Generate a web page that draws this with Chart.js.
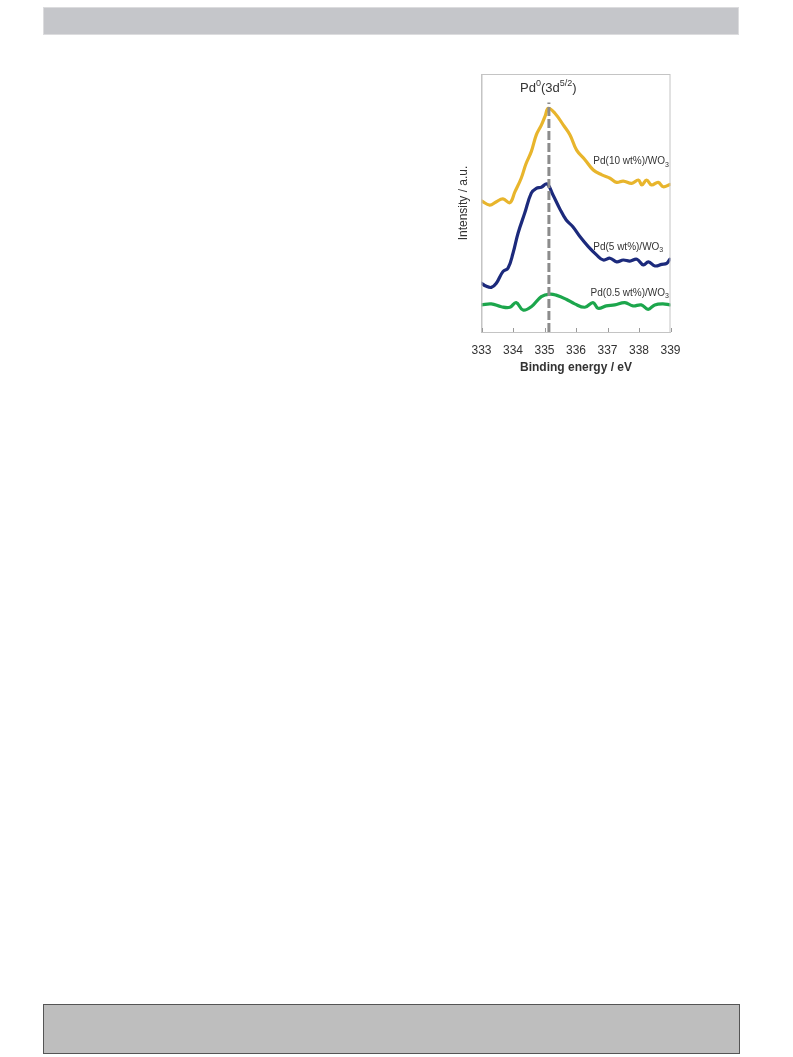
<!DOCTYPE html>
<html>
<head>
<meta charset="utf-8">
<script src="https://cdn.jsdelivr.net/npm/chart.js@4.4.6/dist/chart.umd.min.js"></script>
<style>
  html, body { margin: 0; padding: 0; background: #fff; }
  body { width: 793px; height: 1057px; position: relative; overflow: hidden; }
  .top-bar { position: absolute; left: 43px; top: 7px; width: 694px; height: 26px; background: #c5c6ca; border: 1px solid #dcdcde; }
  .bottom-box { position: absolute; left: 43px; top: 1004px; width: 695px; height: 48px; background: #bebebe; border: 1px solid #555; }
  .chart-box { position: absolute; left: 440px; top: 60px; width: 260px; height: 320px; }
</style>
</head>
<body>
<div class="top-bar"></div>
<div class="chart-box"><canvas id="xps"></canvas></div>
<div class="bottom-box"></div>
<script>
// Pd 3d5/2 XPS spectra (intensity in arbitrary 0-100 units)
const xTicks = [333, 334, 335, 336, 337, 338, 339]

const pd10Energy = [333.00, 333.26, 333.46, 333.68, 333.90, 334.06, 334.26, 334.41, 334.58, 334.74, 334.90, 335.02, 335.12, 335.33, 335.60, 335.81, 336.02, 336.29, 336.55, 336.82, 337.08, 337.29, 337.50, 337.77, 337.98, 338.09, 338.24, 338.40, 338.61, 338.77, 338.98]
const pd10Intensity = [50.8, 49.2, 50.4, 51.6, 50.1, 54.3, 59.6, 65.1, 69.9, 76.4, 80.2, 83.7, 86.7, 84.8, 80.2, 76.4, 70.5, 66.7, 62.8, 60.9, 59.6, 58.0, 58.5, 57.6, 58.9, 57.0, 58.9, 57.0, 58.0, 56.3, 57.2]

const pd5Energy = [333.00, 333.14, 333.31, 333.47, 333.68, 333.84, 334.00, 334.16, 334.37, 334.58, 334.74, 334.90, 335.08, 335.27, 335.48, 335.69, 335.90, 336.13, 336.39, 336.66, 336.87, 337.08, 337.29, 337.50, 337.71, 337.93, 338.14, 338.30, 338.51, 338.72, 338.88, 338.98]
const pd5Intensity = [18.9, 17.8, 17.3, 18.9, 23.4, 24.7, 30.5, 38.3, 46.0, 53.8, 55.7, 56.1, 57.4, 53.1, 47.9, 43.4, 40.8, 36.9, 33.1, 29.8, 27.9, 28.6, 27.2, 27.9, 27.5, 28.2, 26.0, 27.2, 25.6, 26.2, 26.6, 28.2]

const pd05Energy = [333.00, 333.31, 333.63, 333.90, 334.10, 334.32, 334.58, 334.90, 335.17, 335.37, 335.69, 335.96, 336.28, 336.54, 336.70, 336.96, 337.23, 337.55, 337.81, 338.07, 338.29, 338.50, 338.76, 338.98]
const pd05Intensity = [10.5, 10.9, 9.8, 9.6, 11.4, 8.5, 9.8, 13.7, 14.7, 14.3, 12.7, 10.9, 9.6, 11.4, 9.2, 10.1, 10.5, 11.4, 10.1, 10.5, 8.8, 10.5, 10.9, 10.5]

// Pd0 reference line
const peakEnergy = [335.14, 335.14]
const peakIntensity = [0, 89]

const toPoints = (xs, ys) => xs.map((x, i) => ({ x, y: ys[i] }))

// text labels anchored in data coordinates
const labels = [
  { parts: [["Pd(10 wt%)/WO"], ["3", "sub"]], x: 338.95, y: 66.0, align: "right", size: 10 },
  { parts: [["Pd(5 wt%)/WO"], ["3", "sub"]], x: 338.77, y: 33.0, align: "right", size: 10 },
  { parts: [["Pd(0.5 wt%)/WO"], ["3", "sub"]], x: 338.95, y: 15.0, align: "right", size: 10 },
  { parts: [["Pd"], ["0", "sup"], ["(3d"], ["5/2", "sup"], [")"]], x: 335.12, y: 94.5, align: "center", size: 13 }
]

const FONT = "'Liberation Sans', Arial, sans-serif"

function drawRich(ctx, item, px, py) {
  const small = Math.round(item.size * 0.7)
  const pieces = item.parts.map(([t, kind]) => {
    ctx.font = `${kind ? small : item.size}px ${FONT}`
    return { t, kind, w: ctx.measureText(t).width }
  })
  const total = pieces.reduce((s, p) => s + p.w, 0)
  let x = item.align === "right" ? px - total : item.align === "center" ? px - total / 2 : px
  ctx.textBaseline = "middle"
  ctx.textAlign = "left"
  pieces.forEach((p) => {
    let dy = 0
    if (p.kind === "sub") dy = item.size * 0.3
    if (p.kind === "sup") dy = -item.size * 0.35
    ctx.font = `${p.kind ? small : item.size}px ${FONT}`
    ctx.fillText(p.t, x, py + dy)
    x += p.w
  })
}

const decorations = {
  id: "decorations",
  afterDatasetsDraw(chart) {
    const { ctx, chartArea: a, scales: { x, y } } = chart
    ctx.save()
    // plot frame
    ctx.strokeStyle = "#c4c4c4"
    ctx.lineWidth = 1
    ctx.strokeRect(a.left + 0.5, a.top + 0.5, a.right - a.left - 1, a.bottom - a.top)
    // inward tick marks
    ctx.strokeStyle = "#9a9a9a"
    xTicks.forEach((v) => {
      const px = Math.round(x.getPixelForValue(v)) + 0.5
      ctx.beginPath()
      ctx.moveTo(px, a.bottom)
      ctx.lineTo(px, a.bottom - 4)
      ctx.stroke()
    })
    ctx.fillStyle = "#333"
    labels.forEach((l) => drawRich(ctx, l, x.getPixelForValue(l.x), y.getPixelForValue(l.y)))
    ctx.restore()
  }
}

const line = (data, color) => ({
  data,
  borderColor: color,
  borderWidth: 3.2,
  pointRadius: 0,
  tension: 0.4,
  borderCapStyle: "round",
  borderJoinStyle: "round",
  fill: false,
  order: 1
})

new Chart(document.getElementById("xps"), {
  type: "line",
  data: {
    datasets: [
      {
        data: toPoints(peakEnergy, peakIntensity),
        borderColor: "#8c8c8c",
        borderWidth: 3,
        borderDash: [9, 3],
        pointRadius: 0,
        tension: 0,
        order: 0
      },
      line(toPoints(pd10Energy, pd10Intensity), "#e8b52c"),
      line(toPoints(pd5Energy, pd5Intensity), "#1c2a7c"),
      line(toPoints(pd05Energy, pd05Intensity), "#1ca64c")
    ]
  },
  options: {
    responsive: true,
    maintainAspectRatio: false,
    animation: false,
    layout: { padding: { top: 14, right: 29.5, left: 0, bottom: 0 } },
    plugins: { legend: { display: false }, tooltip: { enabled: false } },
    scales: {
      x: {
        type: "linear",
        min: 333,
        max: 339,
        afterBuildTicks: (scale) => { scale.ticks = xTicks.map((v) => ({ value: v })) },
        afterFit: (scale) => { scale.height = 48 },
        grid: { display: false, drawTicks: false },
        border: { display: true, color: "#c4c4c4" },
        ticks: { color: "#333", padding: 11, maxRotation: 0, font: { family: FONT, size: 12 } },
        title: {
          display: true,
          text: "Binding energy / eV",
          color: "#333",
          padding: { top: 0, bottom: 5 },
          font: { family: FONT, size: 12, weight: "bold" }
        }
      },
      y: {
        min: 0,
        max: 100,
        afterFit: (scale) => { scale.width = 41.5 },
        grid: { display: false, drawTicks: false },
        border: { display: true, color: "#c4c4c4" },
        ticks: { display: false },
        title: {
          display: true,
          text: "Intensity / a.u.",
          color: "#333",
          padding: { top: 16, bottom: 0 },
          font: { family: FONT, size: 12 }
        }
      }
    }
  },
  plugins: [decorations]
})
</script>
</body>
</html>
